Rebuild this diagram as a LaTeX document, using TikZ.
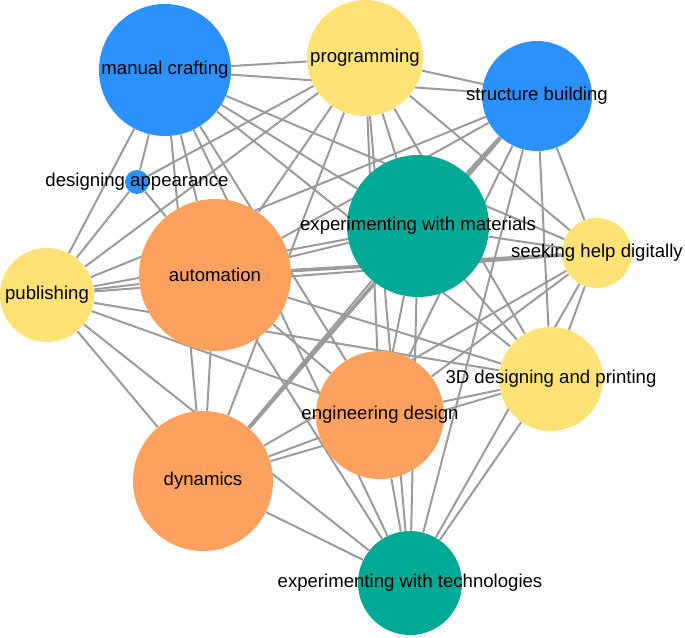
\documentclass[tikz,border=0pt]{standalone}
\usepackage{fontspec}
\setmainfont{Liberation Sans}
\usetikzlibrary{backgrounds}

\definecolor{vblue}{RGB}{42,145,255}
\definecolor{vyellow}{RGB}{255,226,118}
\definecolor{vorange}{RGB}{255,161,94}
\definecolor{vteal}{RGB}{0,168,150}
\definecolor{egray}{RGB}{155,155,155}

\tikzset{
  vtx/.style={circle, inner sep=0pt, draw=none},
  edge/.style={draw=egray, line width=1pt},
  heavy/.style={draw=egray, line width=1.8pt}
}

\begin{document}
\begin{tikzpicture}[x=0.5pt, y=-0.5pt, font=\fontsize{9.3}{11}\selectfont]
    \useasboundingbox (0,0) rectangle (685,637);

    % Blue nodes
    \node[vtx, fill=vblue, minimum size=66pt, label=center:{manual crafting}] (mc) at (165,70) {};
    \node[vtx, fill=vblue, minimum size=55pt, label=center:{structure building}] (sb) at (537,96) {};
    \node[vtx, fill=vblue, minimum size=12pt, label=center:{designing appearance}] (da) at (137,182) {};

    % Yellow nodes
    \node[vtx, fill=vyellow, minimum size=58pt, label=center:{programming}] (prog) at (365,58) {};
    \node[vtx, fill=vyellow, minimum size=35pt, label=center:{seeking help digitally}] (sh) at (597,253) {};
    \node[vtx, fill=vyellow, minimum size=47pt, label=center:{publishing}] (pub) at (47,295) {};
    \node[vtx, fill=vyellow, minimum size=52pt, label=center:{3D designing and printing}] (print) at (551,379) {};

    % Orange nodes
    \node[vtx, fill=vorange, minimum size=76pt, label=center:{automation}] (auto) at (215,275) {};
    \node[vtx, fill=vorange, minimum size=64pt, label=center:{engineering design}] (ed) at (380,415) {};
    \node[vtx, fill=vorange, minimum size=70pt, label=center:{dynamics}] (dyn) at (203,481) {};

    % Teal nodes
    \node[vtx, fill=vteal, minimum size=71pt, label=center:{experimenting with materials}] (em) at (418,226) {};
    \node[vtx, fill=vteal, minimum size=52pt, label=center:{experimenting with technologies}] (et) at (410,583) {};

    % Connections
    \begin{scope}[on background layer]
    \draw[edge] (mc) -- (prog) (mc) -- (sb) (mc) -- (sh) (mc) -- (em) (mc) -- (print) (mc) -- (ed)
                (mc) -- (et) (mc) -- (auto) (mc) -- (dyn) (mc) -- (da) (mc) -- (pub);
    \draw[edge] (prog) -- (sb) (prog) -- (sh) (prog) -- (da) (prog) -- (pub) (prog) -- (auto) (prog) -- (dyn)
                (prog) -- (ed) (prog) -- (et) (prog) -- (em) (prog) -- (print);
    \draw[edge] (sb) -- (pub) (sb) -- (auto) (sb) -- (sh) (sb) -- (print) (sb) -- (et) (sb) -- (ed) (sb) -- (em);
    \draw[heavy] (sb) -- (dyn);
    \draw[edge] (da) -- (auto) (da) -- (pub);
    \draw[edge] (em) -- (sh) (em) -- (auto) (em) -- (pub) (em) -- (dyn) (em) -- (ed) (em) -- (et) (em) -- (print);
    \draw[edge] (sh) -- (pub) (sh) -- (dyn) (sh) -- (ed) (sh) -- (print) (sh) -- (et);
    \draw[heavy] (sh) -- (auto);
    \draw[edge] (auto) -- (pub) (auto) -- (dyn) (auto) -- (ed) (auto) -- (et) (auto) -- (print);
    \draw[edge] (pub) -- (print) (pub) -- (ed) (pub) -- (dyn) (pub) -- (et);
    \draw[edge] (print) -- (ed) (print) -- (dyn) (print) -- (et);
    \draw[edge] (ed) -- (dyn) (ed) -- (et) (dyn) -- (et);
    \end{scope}
\end{tikzpicture}
\end{document}
